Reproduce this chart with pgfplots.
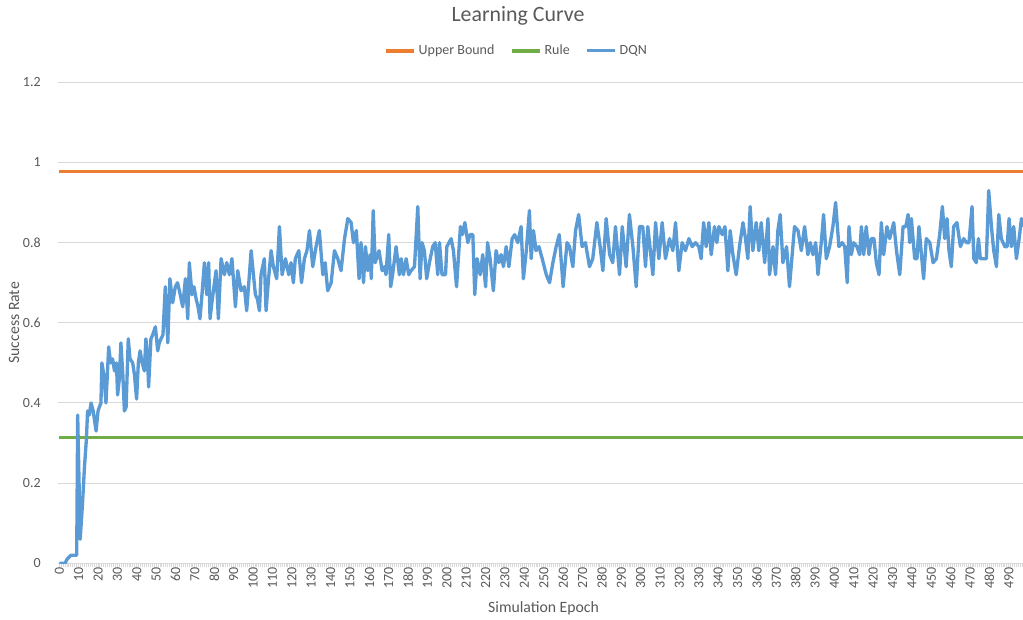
\documentclass[border=0pt]{standalone}
\usepackage{fontspec}
\setmainfont{Carlito}
\usepackage{pgfplots}
\pgfplotsset{compat=1.18}
\definecolor{ubOrange}{HTML}{ED7D31}
\definecolor{ruleGreen}{HTML}{70AD47}
\definecolor{dqnBlue}{HTML}{5B9BD5}
\definecolor{gridGray}{HTML}{D9D9D9}
\definecolor{txtGray}{HTML}{595959}
\begin{document}
\begin{tikzpicture}
\begin{axis}[
  at={(0,0)}, anchor=south west,
  scale only axis, width=723.525pt, height=360.75pt,
  xmin=-0.5, xmax=497.3, ymin=0, ymax=1.2,
  axis line style={draw=none},
  xtick={0,10,...,490},
  minor xtick={0,...,497},
  xtick pos=left, ytick pos=left,
  tick align=outside,
  major tick length=3pt, minor tick length=3pt,
  xtick style={draw=gridGray, line width=0.75pt},
  minor tick style={draw=gridGray, line width=0.75pt},
  ytick style={draw=none},
  ytick={0,0.2,0.4,0.6,0.8,1,1.2},
  yticklabels={0,0.2,0.4,0.6,0.8,1,1.2},
  ymajorgrids, grid style={draw=gridGray, line width=0.75pt},
  /pgf/number format/assume math mode=true,
  xticklabel style={rotate=90, anchor=east, inner sep=0pt, font=\fontsize{10.5}{12}\selectfont, text=txtGray},
  yticklabel style={anchor=east, inner sep=0pt, xshift=-10pt, font=\fontsize{10.5}{12}\selectfont, text=txtGray},
  every axis title shift=0pt,
  title={Learning Curve},
  title style={at={(axis description cs:0.4765,1.1274)}, anchor=base, inner sep=0pt, font=\fontsize{16.4}{19}\selectfont, text=txtGray},
  xlabel={Simulation Epoch},
  xlabel style={at={(axis description cs:0.503,-0.093)}, anchor=center, font=\fontsize{11.8}{14}\selectfont, text=txtGray},
  ylabel={Success Rate},
  ylabel style={at={(axis description cs:-0.0459,0.5)}, anchor=center, font=\fontsize{11.8}{14}\selectfont, text=txtGray},
  legend columns=3,
  legend image code/.code={\draw[#1] (0pt,0pt) -- (21pt,0pt);},
  legend style={draw=none, fill=none, at={(axis description cs:0.4755,1.0655)}, anchor=center,
    font=\fontsize{10.5}{12}\selectfont, text=txtGray,
    /tikz/every even column/.append style={column sep=10pt}},
]
\addplot[ubOrange, line width=2.6pt] coordinates {(0,0.977) (497.3,0.977)};
\addlegendentry{Upper Bound}
\addplot[ruleGreen, line width=2.6pt] coordinates {(0,0.314) (497.3,0.314)};
\addlegendentry{Rule}
\addplot[dqnBlue, line width=2.5pt, line join=round] coordinates {
(0,0) (3,0) (4,0.01) (5,0.015) (6,0.02) (8,0.02) (9,0.02) (9.5,0.37) (10.8,0.06) (12,0.15) (13,0.24) (14,0.31)
(14.6,0.38) (15.5,0.37) (16.4,0.40) (17.5,0.38) (19,0.33) (20,0.38) (20.7,0.39) (21.5,0.40) (22,0.50) (23,0.47)
(24.1,0.40) (25.5,0.54) (26.5,0.50) (27.5,0.51) (28.5,0.48) (29.5,0.50) (30.1,0.42) (31,0.46) (31.8,0.55) (32.8,0.47)
(33.6,0.38) (34.5,0.39) (35.6,0.56) (36.5,0.51) (37.9,0.50) (38.8,0.47) (39.9,0.41) (40.8,0.50) (41.7,0.53) (42.8,0.50)
(43.9,0.48) (44.7,0.56) (45.5,0.52) (46.1,0.44) (47.3,0.56) (48.2,0.57) (49.6,0.59) (50.8,0.53) (51.6,0.55) (52.5,0.56)
(53.5,0.57) (54.7,0.69) (56,0.55) (57.1,0.71) (58.5,0.65) (59.9,0.69) (61,0.70) (62,0.68) (63.7,0.64) (65.1,0.71)
(66.3,0.61) (67.1,0.75) (68.5,0.67) (69.5,0.69) (70.6,0.66) (71.6,0.64) (72.6,0.61) (73.8,0.68) (74.9,0.75) (76.1,0.67)
(77.1,0.75) (77.8,0.61) (79,0.66) (80.9,0.73) (82.1,0.61) (83.5,0.76) (85.2,0.72) (86.4,0.75) (87.8,0.72) (89.1,0.76)
(90.9,0.64) (92.1,0.73) (93.8,0.68) (95.5,0.69) (96.7,0.63) (97.8,0.70) (99,0.78) (100.2,0.72) (101.2,0.67) (102.2,0.66)
(103.3,0.63) (104.1,0.72) (105.8,0.76) (106.7,0.63) (108,0.71) (109.3,0.78) (110.5,0.74) (112.2,0.71) (113.6,0.84) (115,0.72)
(116.7,0.76) (118.4,0.72) (119.6,0.75) (120.8,0.70) (121.8,0.76) (123.6,0.78) (125,0.70) (126.5,0.76) (127.8,0.78) (129.1,0.83)
(130.8,0.74) (132.5,0.79) (134.2,0.83) (136,0.72) (137.2,0.75) (138.5,0.68) (140.3,0.70) (142,0.78) (143.7,0.76) (145.4,0.73)
(147.2,0.81) (148.9,0.86) (150.6,0.85) (151.8,0.80) (153.3,0.83) (154.7,0.71) (155.7,0.80) (157,0.70) (158,0.79) (159.2,0.73)
(160.4,0.77) (161,0.71) (162,0.88) (163,0.75) (165,0.78) (166.6,0.73) (167.8,0.74) (168.6,0.72) (170,0.82) (171,0.69)
(172,0.72) (173.8,0.79) (175.5,0.72) (176.4,0.76) (177.6,0.72) (179,0.76) (180.3,0.72) (181.5,0.73) (183.3,0.74) (185,0.89)
(186.2,0.71) (187.2,0.80) (188.4,0.78) (189.6,0.71) (191,0.75) (192.7,0.79) (194,0.80) (195.3,0.72) (196.2,0.80) (197.5,0.72)
(199.3,0.72) (200,0.79) (202.2,0.81) (203.4,0.78) (205,0.69) (207,0.84) (208,0.82) (209.3,0.85) (210.8,0.80) (212,0.82)
(213.4,0.82) (214.4,0.67) (215.6,0.76) (217.2,0.72) (218.5,0.77) (220,0.69) (221,0.80) (222.3,0.76) (224,0.68) (225.4,0.78)
(226.8,0.75) (228,0.77) (229.2,0.74) (230.6,0.79) (232,0.74) (233.7,0.81) (235,0.82) (236.6,0.80) (238.3,0.84) (239.5,0.71)
(241,0.78) (242.6,0.88) (243.5,0.76) (244.7,0.83) (246,0.78) (247.5,0.79) (249.2,0.76) (251.3,0.72) (253,0.70) (254.7,0.75)
(256.4,0.79) (258,0.82) (260,0.69) (262,0.80) (263.3,0.79) (265,0.74) (266.4,0.83) (268,0.87) (269.8,0.79) (271.5,0.80)
(273.6,0.74) (275.3,0.76) (277.4,0.85) (279.1,0.79) (280.5,0.73) (282.2,0.86) (284,0.77) (285.6,0.75) (287,0.84) (289.1,0.72)
(290.5,0.84) (292.5,0.74) (294.2,0.87) (296,0.79) (297.7,0.69) (299.4,0.84) (301.1,0.84) (302.5,0.74) (303.7,0.84) (306.3,0.72)
(307.7,0.85) (309.4,0.76) (311.1,0.85) (312.8,0.76) (314.9,0.81) (316.6,0.78) (318,0.85) (319.7,0.73) (321.4,0.80) (323.1,0.78)
(324.9,0.81) (326.6,0.79) (328.3,0.80) (330,0.79) (331.2,0.76) (332.5,0.85) (333.8,0.79) (335.2,0.85) (336.4,0.77) (338.1,0.84)
(339.3,0.80) (340.4,0.84) (342.1,0.82) (343.5,0.84) (345,0.73) (346.2,0.83) (347.6,0.77) (349.3,0.72) (351,0.79) (352.8,0.85)
(354.1,0.81) (355.3,0.76) (356.5,0.89) (357.9,0.78) (359.6,0.85) (361,0.78) (362.2,0.85) (364,0.75) (365.7,0.86) (366.5,0.72)
(368.3,0.79) (369.6,0.72) (370.8,0.83) (372,0.87) (373.4,0.75) (375.3,0.79) (376.8,0.69) (379.4,0.84) (381.2,0.83) (382.9,0.78)
(384.6,0.84) (386.3,0.77) (387.5,0.80) (388.9,0.77) (390.3,0.80) (391.5,0.72) (393.2,0.80) (394.4,0.87) (395.8,0.76) (397.5,0.79)
(399.2,0.84) (400.6,0.90) (402.3,0.79) (404,0.80) (405.3,0.79) (406.6,0.70) (407.5,0.84) (408.7,0.77) (409.9,0.80) (411.6,0.79)
(413,0.77) (413.9,0.84) (415.1,0.77) (416.4,0.84) (417.8,0.77) (419,0.81) (420.4,0.81) (421.6,0.75) (423,0.72) (424.2,0.85)
(425.4,0.77) (427.1,0.84) (428.5,0.81) (430.6,0.85) (432,0.78) (433.7,0.72) (435.4,0.84) (436.8,0.84) (438,0.87) (438.8,0.80)
(439.7,0.86) (441.4,0.76) (442.6,0.76) (443.6,0.84) (444.9,0.77) (446,0.71) (447.4,0.81) (449.2,0.80) (450.9,0.75) (452.6,0.76)
(454.3,0.82) (455.7,0.89) (456.9,0.81) (458.1,0.86) (459.1,0.78) (460.3,0.74) (461.5,0.84) (463.2,0.85) (465,0.79) (466.7,0.81)
(468.1,0.80) (469.4,0.80) (471,0.89) (471.9,0.76) (473.2,0.75) (474.3,0.81) (475.3,0.76) (477,0.76) (478.4,0.76) (479.6,0.93)
(481,0.84) (482.2,0.78) (483.6,0.74) (484.8,0.87) (486.1,0.81) (487.9,0.79) (489.1,0.79) (490.1,0.86) (491.3,0.79) (492.5,0.84)
(493.9,0.76) (495.3,0.81) (496.5,0.86) (497.5,0.84)
};
\addlegendentry{DQN}
\end{axis}
\pgfresetboundingbox
\path[use as bounding box] (-43.725pt,-41.775pt) rectangle (723.525pt,422.475pt);
\end{tikzpicture}
\end{document}
